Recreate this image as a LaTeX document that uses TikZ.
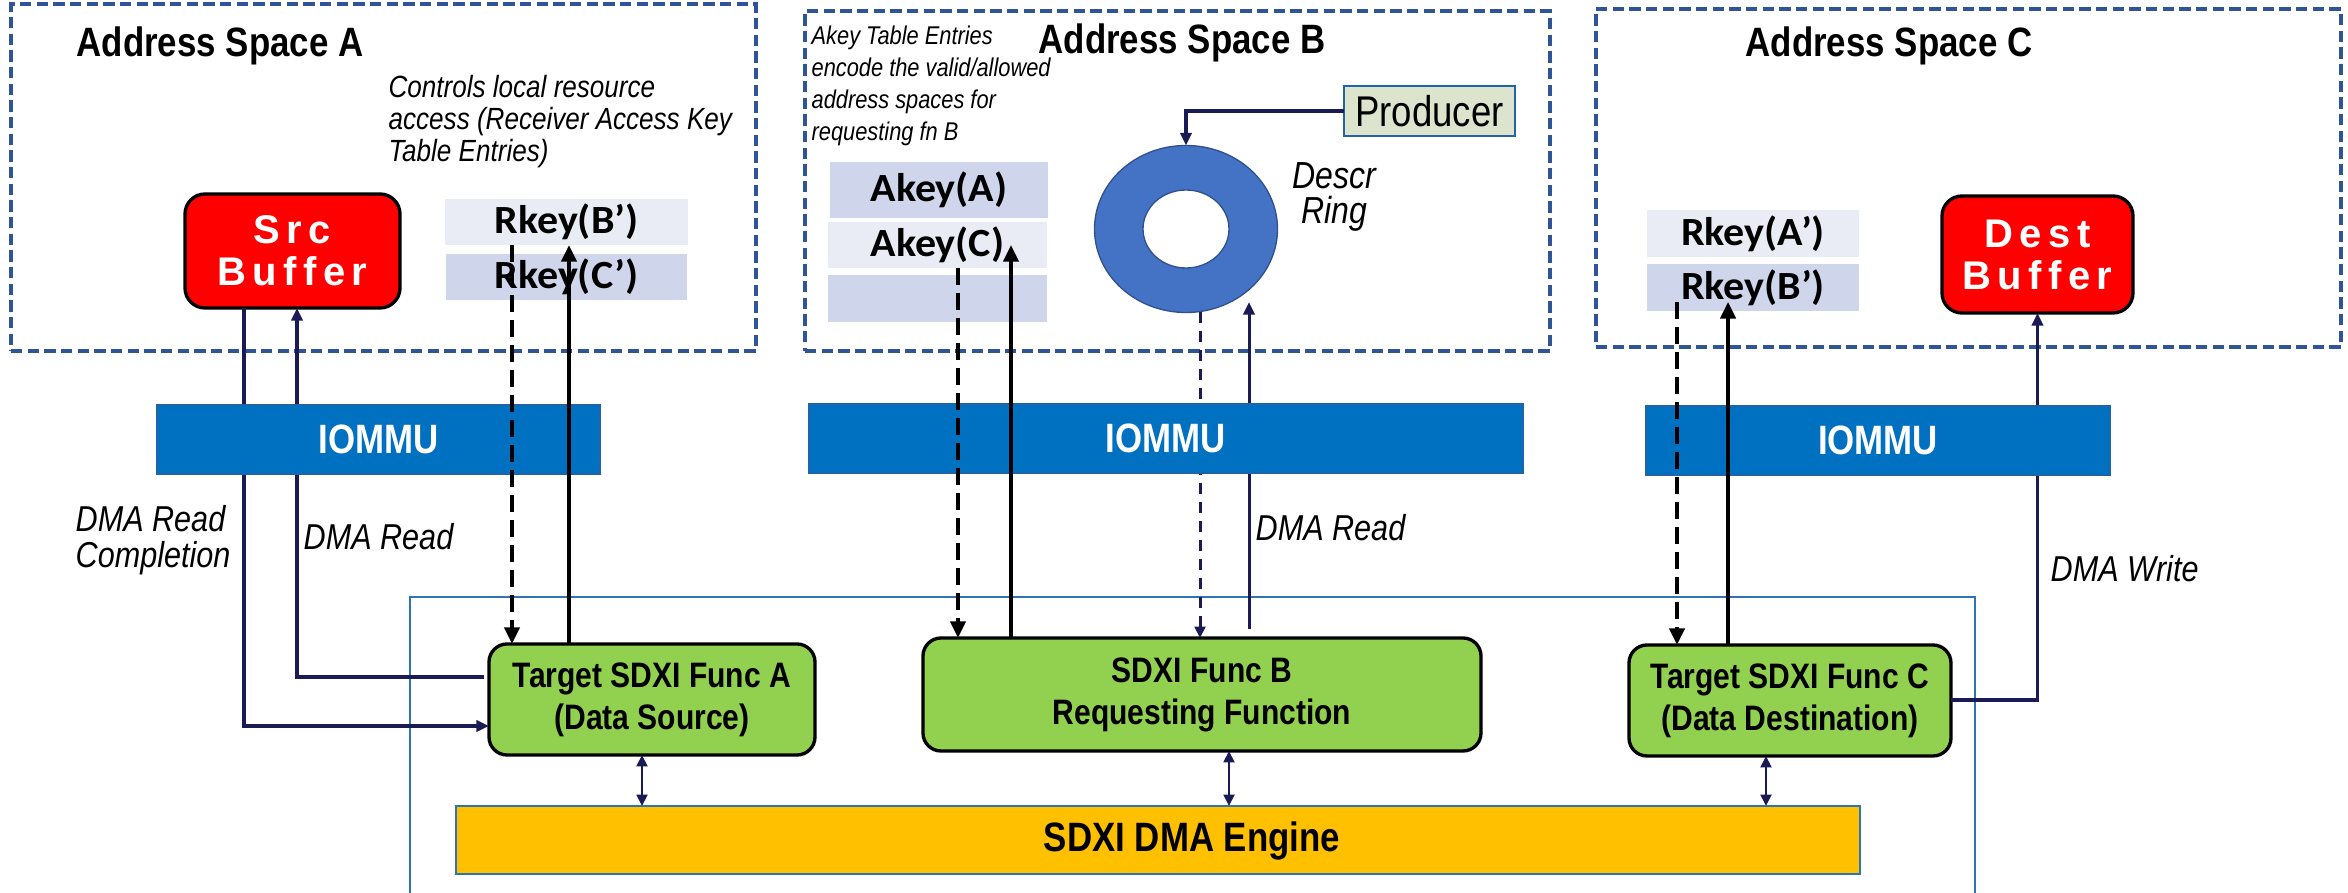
\documentclass[tikz,border=0pt]{standalone}
\usepackage{fontspec}
\usetikzlibrary{arrows.meta,shapes.geometric}
\newfontfamily\nsf{Liberation Sans}[FakeStretch=0.85]
\newfontfamily\wsf{Liberation Sans}[LetterSpace=16]
\newfontfamily\kfont{Carlito}[FakeStretch=1.05]
\definecolor{navy}{HTML}{1A1A55}
\definecolor{spaceblue}{HTML}{2F5597}
\definecolor{outerblue}{HTML}{2E75B6}
\definecolor{iommublue}{HTML}{0070C0}
\definecolor{iommuedge}{HTML}{1F64A8}
\definecolor{funcgreen}{HTML}{92D050}
\definecolor{engineyellow}{HTML}{FFC000}
\definecolor{keyl}{HTML}{E9EBF5}
\definecolor{keyd}{HTML}{CFD5EA}
\definecolor{prodfill}{HTML}{DDE4CD}
\definecolor{prodedge}{HTML}{2264A8}
\definecolor{ringblue}{HTML}{4472C4}
\definecolor{ringedge}{HTML}{2F528F}
\tikzset{
  sz/.style 2 args={minimum width=#1*0.3pt, minimum height=#2*0.3pt, inner sep=0pt, outer sep=0pt},
  addrspace/.style={draw=spaceblue, line width=1.0pt, dash pattern=on 3.4pt off 1.6pt},
  titletext/.style={font=\nsf\bfseries\fontsize{12.3}{14}\selectfont},
  note/.style={font=\nsf\itshape\fontsize{9.2}{9.6}\selectfont, align=left, inner sep=0pt, anchor=north west},
  buffer/.style={draw=black, line width=1.0pt, fill=red, rounded corners=6pt, text=white,
    font=\wsf\bfseries\fontsize{12}{12.6}\selectfont, align=center},
  keybox/.style={font=\kfont\bfseries\fontsize{12}{13}\selectfont},
  iommu/.style={fill=iommublue, draw=iommuedge, line width=0.5pt, text=white,
    font=\nsf\bfseries\fontsize{12.3}{14}\selectfont},
  func/.style={fill=funcgreen, draw=black, line width=1.0pt, rounded corners=5.4pt, align=center,
    font=\nsf\bfseries\fontsize{10.6}{12.6}\selectfont},
  engine/.style={fill=engineyellow, draw=outerblue, line width=0.6pt},
  flowlabel/.style={font=\nsf\itshape\fontsize{10.8}{10.8}\selectfont, inner sep=0pt},
  keyarrow/.style={draw=black, line width=1.05pt, -{Triangle[length=5pt,width=4.6pt]}},
  keydash/.style={keyarrow, dash pattern=on 5pt off 2.5pt},
  navyarrow/.style={draw=navy, line width=1.1pt, -{Triangle[length=3.8pt,width=3.4pt]}},
  navydash/.style={draw=navy, line width=0.9pt, dash pattern=on 3.3pt off 2.4pt,
    -{Triangle[length=3.4pt,width=3.2pt]}},
  biarrow/.style={draw=navy, line width=0.85pt,
    {Triangle[length=3.4pt,width=3.2pt]}-{Triangle[length=3.4pt,width=3.2pt]}},
}
\begin{document}
\begin{tikzpicture}[x=0.3pt,y=-0.3pt]
\useasboundingbox (0,0) rectangle (2348,893);

% address spaces
\node[addrspace, sz={745}{347}] (spaceA) at (383.5,177.5) {};
\node[addrspace, sz={745}{340}] (spaceB) at (1177.5,181) {};
\node[addrspace, sz={745}{338}] (spaceC) at (1968.5,178) {};
\node[titletext] (titleA) at (220,46) {Address Space A};
\node[titletext] (titleB) at (1182,43) {Address Space B};
\node[titletext] (titleC) at (1889,46) {Address Space C};

% device boundary, open at the bottom
\draw[outerblue, line width=0.6pt] (410,893) -- (410,597) -- (1975,597) -- (1975,893);

% notes
\node[note] (noteA) at (388,75) {Controls local resource\\access (Receiver Access Key\\Table Entries)};
\node[note, font=\nsf\itshape\fontsize{7.7}{9.6}\selectfont] (noteB) at (811,25)
  {Akey Table Entries\\encode the valid/allowed\\address spaces for\\requesting fn B};

% buffers
\node[buffer, sz={215}{114}] (srcbuf) at (292.5,251) {Src\\Buffer};
\node[buffer, sz={191}{117}] (destbuf) at (2037.5,254.5) {Dest\\Buffer};

% key tables
\node[keybox, fill=keyl, sz={243}{46}] (rkAB) at (566.5,222) {Rkey(B’)};
\node[keybox, fill=keyd, sz={241}{46}] (rkAC) at (566.5,277) {Rkey(C’)};
\node[keybox, fill=keyd, sz={218}{56}] (akA) at (939,190) {Akey(A)};
\node[keybox, fill=keyl, sz={219}{46}] (akC) at (937.5,245) {Akey(C)};
\node[keybox, fill=keyd, sz={219}{47}] (akE) at (937.5,298.5) {};
\node[keybox, fill=keyl, sz={212}{47}] (rkCA) at (1753,233.5) {Rkey(A’)};
\node[keybox, fill=keyd, sz={212}{47}] (rkCB) at (1753,287.5) {Rkey(B’)};

% producer and descriptor ring
\node[draw=prodedge, line width=0.8pt, fill=prodfill, sz={171}{50},
  font=\nsf\fontsize{12.9}{14}\selectfont] (producer) at (1429.5,111) {Producer};
\node[ellipse, fill=ringblue, draw=ringedge, line width=0.4pt, sz={183}{167}] (ring) at (1186,229) {};
\node[ellipse, fill=white, draw=ringedge, line width=0.4pt, sz={86}{78}] (ringhole) at (ring.center) {};
\node[font=\nsf\itshape\fontsize{11.3}{10.5}\selectfont, align=center] (ringlbl) at (1334,197) {Descr\\Ring};

% SDXI functions and engine
\node[func, sz={326}{111}] (funcA) at (652,699.5) {Target SDXI Func A\\(Data Source)};
\node[func, sz={558}{113}] (funcB) at (1202,694.5) {SDXI Func B\\Requesting Function};
\node[func, sz={322}{111}] (funcC) at (1790,700.5) {Target SDXI Func C\\(Data Destination)};
\node[engine, sz={1404}{68}] (engine) at (1158,840) {};
\node[font=\nsf\bfseries\fontsize{12.3}{14}\selectfont] (enginetxt) at (1192,841) {SDXI DMA Engine};

% reference points for connector columns and bends
\coordinate (xAd) at (512,0);
\coordinate (xAs) at (569,0);
\coordinate (xBd) at (958,0);
\coordinate (xBs) at (1011,0);
\coordinate (xRd) at (1200,0);
\coordinate (xRs) at (1249,0);
\coordinate (xCd) at (1677,302);
\coordinate (xCs) at (1728,302);
\coordinate (xAe) at (642,0);
\coordinate (xBe) at (1229,0);
\coordinate (xCe) at (1766,0);
\coordinate (rdc) at (244,726);
\coordinate (rd) at (297,677);
\coordinate (dw) at (2037,700);
\coordinate (ringin) at (1249,302);

% memory traffic (passes under the IOMMUs)
\draw[navyarrow] (srcbuf.south -| rdc) |- (funcA.west |- rdc);
\draw[navyarrow, shorten <=1.5pt] (funcA.west |- rd) -| (srcbuf.south -| rd);
\draw[navyarrow] (funcC.east |- dw) -| (destbuf.south);
\draw[navyarrow] (producer.west) -| (ring.north);
\draw[navydash] (ring.south -| xRd) -- (funcB.north -| xRd);
\draw[navyarrow, line width=0.9pt, shorten <=2.7pt] (funcB.north -| xRs) -- (ringin);
\draw[biarrow] (funcA.south -| xAe) -- (engine.north -| xAe);
\draw[biarrow] (funcB.south -| xBe) -- (engine.north -| xBe);
\draw[biarrow] (funcC.south -| xCe) -- (engine.north -| xCe);

% IOMMUs
\node[iommu, sz={443}{69}] (iomA) at (378.5,439.5) {IOMMU};
\node[iommu, sz={714}{69}] (iomB) at (1166,438.5) {IOMMU};
\node[iommu, sz={464}{69}] (iomC) at (1878,440.5) {IOMMU};

% key lookups
\draw[keydash] (rkAB.south -| xAd) -- (funcA.north -| xAd);
\draw[keyarrow] (funcA.north -| xAs) -- (rkAB.south -| xAs);
\draw[keydash] (akC.south -| xBd) -- (funcB.north -| xBd);
\draw[keyarrow] (funcB.north -| xBs) -- (akC.center -| xBs);
\draw[keydash] (xCd) -- (funcC.north -| xCd);
\draw[keyarrow] (funcC.north -| xCs) -- (xCs);

% traffic labels
\node[flowlabel, anchor=north west, align=left] (lblRC) at (75,505) {DMA Read\\Completion};
\node[flowlabel, anchor=west] (lblRA) at (303,537) {DMA Read};
\node[flowlabel, anchor=west] (lblRB) at (1255,528) {DMA Read};
\node[flowlabel, anchor=west] (lblW) at (2050,569) {DMA Write};
\end{tikzpicture}
\end{document}
